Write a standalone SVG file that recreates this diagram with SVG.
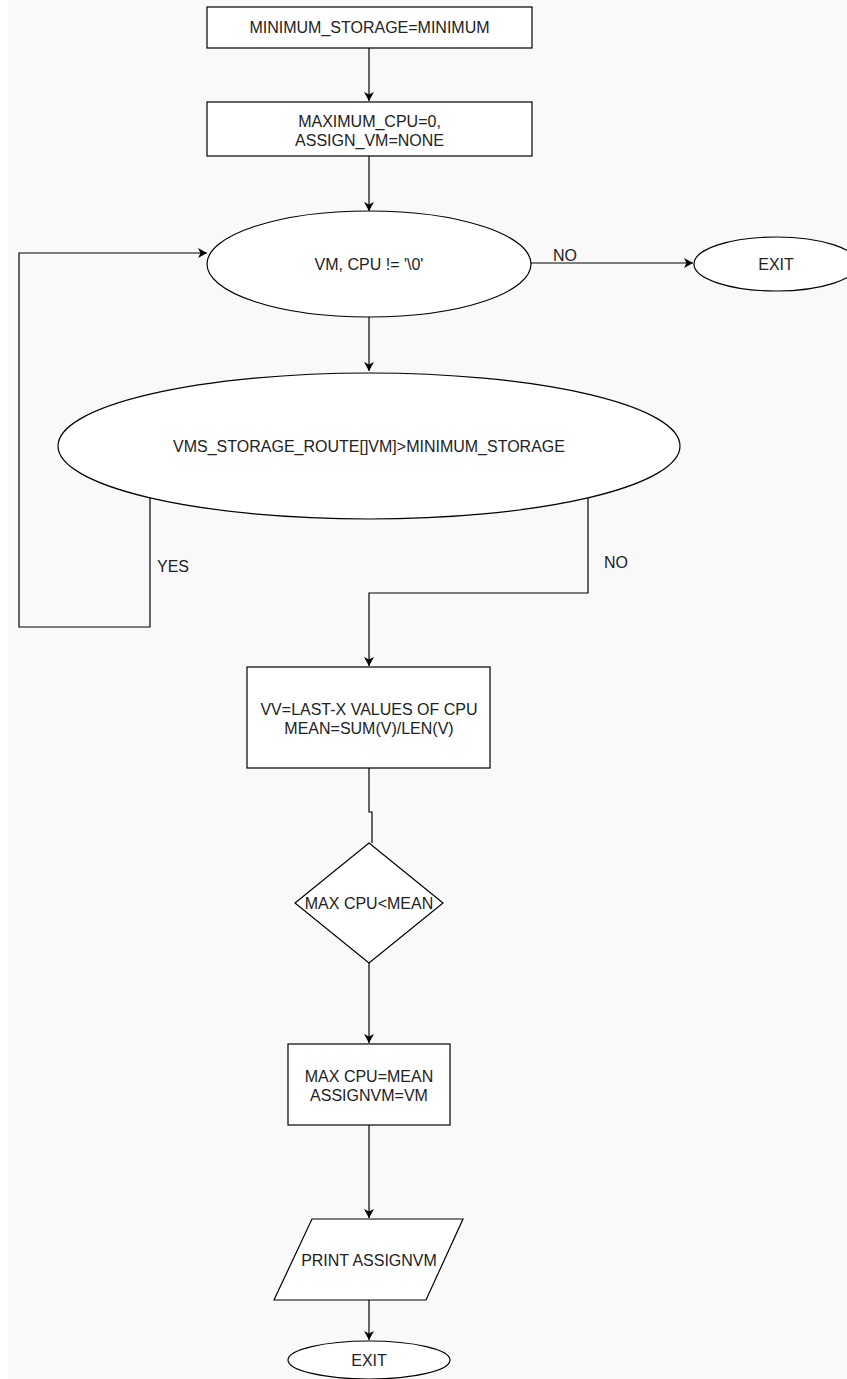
<svg xmlns="http://www.w3.org/2000/svg" width="847" height="1379" viewBox="0 0 847 1379">
<defs>
<marker id="arr" markerWidth="12" markerHeight="12" refX="10" refY="6" orient="auto" markerUnits="userSpaceOnUse">
<path d="M1,1 L10,6 L1,11 L3.5,6 Z" fill="#000"/>
</marker>
<style>
.s{fill:#fff;stroke:#000;stroke-width:1.2}
.c{fill:none;stroke:#000;stroke-width:1.2}
text{font-family:"Liberation Sans",Arial,sans-serif;font-size:16px;fill:#222}
.m{text-anchor:middle}
</style>
</defs>
<rect x="0" y="0" width="847" height="1379" fill="#fff"/>
<rect x="8" y="0" width="839" height="1379" fill="#f9f9f9"/>
<g id="connectors">
<path class="c" d="M369,48 V101" marker-end="url(#arr)"/>
<path class="c" d="M369,156 V211" marker-end="url(#arr)"/>
<path class="c" d="M531,263 H693" marker-end="url(#arr)"/>
<text x="553" y="261">NO</text>
<path class="c" d="M369,317 V371" marker-end="url(#arr)"/>
<path class="c" d="M150,498 V627 H19 V253 H207" marker-end="url(#arr)"/>
<text x="157" y="572">YES</text>
<path class="c" d="M588,498 V593 H369 V666" marker-end="url(#arr)"/>
<text x="604" y="568">NO</text>
<path class="c" d="M369,768 V812 H372 V843"/>
<path class="c" d="M369,963 V1043" marker-end="url(#arr)"/>
<path class="c" d="M369,1125 V1218" marker-end="url(#arr)"/>
<path class="c" d="M369,1300 V1340" marker-end="url(#arr)"/>
</g>
<g id="n1">
<rect class="s" x="207" y="7" width="325" height="41"/>
<text class="m" x="369.5" y="33">MINIMUM_STORAGE=MINIMUM</text>
</g>
<g id="n2">
<rect class="s" x="207" y="102" width="325" height="54"/>
<text class="m" x="369.5" y="127">MAXIMUM_CPU=0,</text>
<text class="m" x="369.5" y="146">ASSIGN_VM=NONE</text>
</g>
<g id="n3">
<ellipse class="s" cx="369" cy="264" rx="162" ry="53"/>
<text class="m" x="369" y="270">VM, CPU != '\0'</text>
</g>
<g id="n4">
<ellipse class="s" cx="776" cy="264" rx="82" ry="27"/>
<text class="m" x="776" y="270">EXIT</text>
</g>
<g id="n5">
<ellipse class="s" cx="369" cy="446" rx="311" ry="73"/>
<text class="m" x="369" y="452">VMS_STORAGE_ROUTE[]VM]&gt;MINIMUM_STORAGE</text>
</g>
<g id="n6">
<rect class="s" x="247" y="667" width="243" height="101"/>
<text class="m" x="369" y="715">VV=LAST-X VALUES OF CPU</text>
<text class="m" x="369" y="734">MEAN=SUM(V)/LEN(V)</text>
</g>
<g id="n7">
<path class="s" d="M369,843 L443,903 L369,963 L295,903 Z"/>
<text class="m" x="369" y="909">MAX CPU&lt;MEAN</text>
</g>
<g id="n8">
<rect class="s" x="288" y="1044" width="162" height="81"/>
<text class="m" x="369" y="1082">MAX CPU=MEAN</text>
<text class="m" x="369" y="1101">ASSIGNVM=VM</text>
</g>
<g id="n9">
<path class="s" d="M312,1219 L463,1219 L426,1300 L274,1300 Z"/>
<text class="m" x="369" y="1266">PRINT ASSIGNVM</text>
</g>
<g id="n10">
<ellipse class="s" cx="369" cy="1360" rx="81" ry="19"/>
<text class="m" x="369" y="1366">EXIT</text>
</g>
</svg>
